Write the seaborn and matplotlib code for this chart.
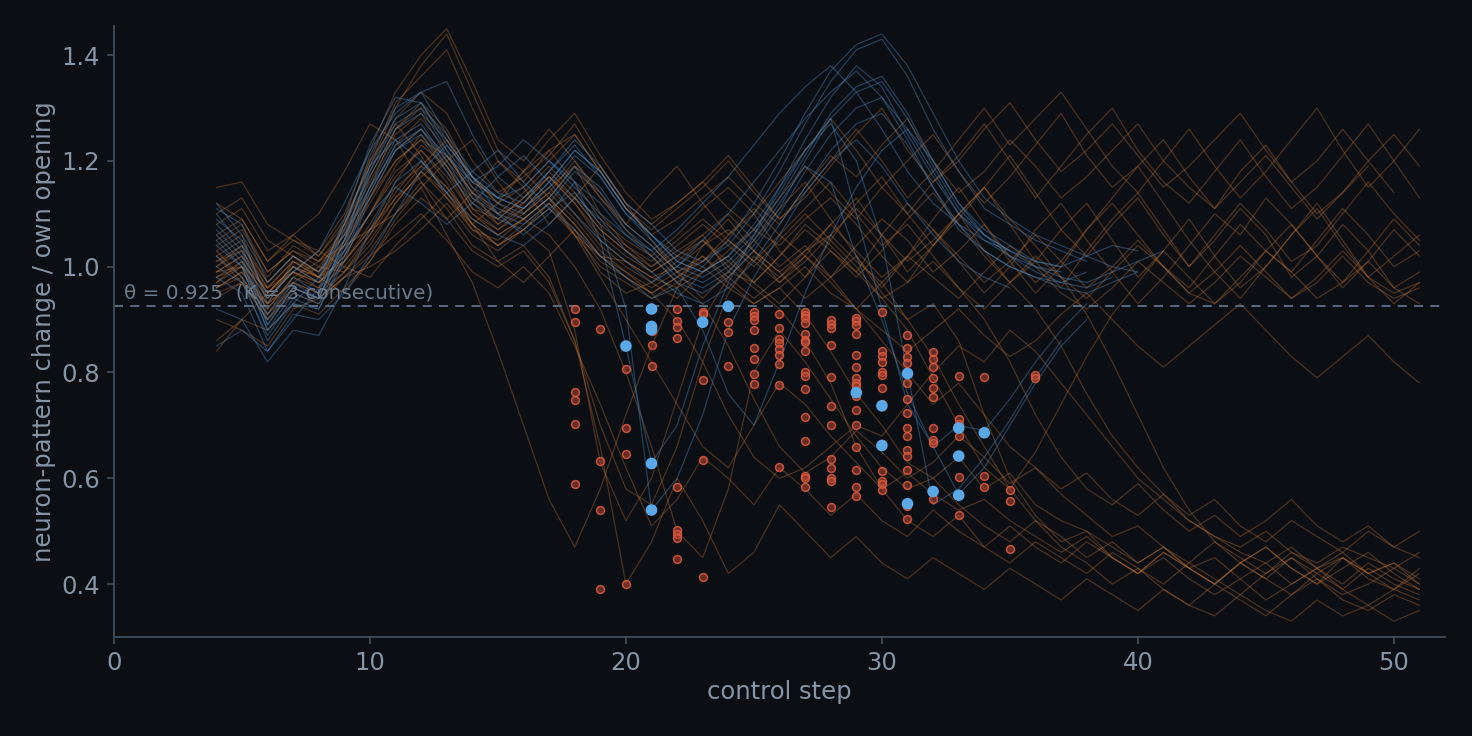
import numpy as np
import pandas as pd
import matplotlib
matplotlib.use("Agg")
import matplotlib.pyplot as plt
import seaborn as sns

# trajectories, one list per run, values start at step 4
orange_runs = [
    [0.97,1.01,0.94,0.99,0.96,1.08,1.20,1.27, 1.21,1.13,1.08,1.12,1.18,1.13,1.06,1.02,
     1.01,0.98,0.96,0.99,1.03,1.07,1.04,1.09, 1.13,1.08,1.02,0.97,1.04,1.10,1.15,1.08,
     1.01,0.96,1.03,1.09,1.14,1.07,1.00,1.05, 1.11,1.06,0.98,1.02,1.08,1.03,0.96,0.99],
    [1.03,0.98,0.91,0.97,1.00,0.99,1.06,1.15, 1.19,1.24,1.17,1.12,1.09,1.13,1.19,1.10,
     1.04,1.00,1.03,1.06,0.99,0.97,1.02,1.08, 1.04,0.99,1.06,1.12,1.07,1.01,0.95,1.00,
     1.07,1.12,1.05,0.99,0.93,0.98,1.04,1.10, 1.06,1.13,1.08,1.02,0.97,1.03,1.09,1.04],
    [1.10,1.13,1.05,1.02,0.99,1.08,1.20,1.31, 1.36,1.41,1.30,1.20,1.16,1.22,1.25,1.18,
     1.11,1.06,1.09,1.13,1.17,1.12,1.08,1.15, 1.21,1.17,1.23,1.28,1.20,1.14,1.18,1.24,
     1.19,1.13,1.17,1.22,1.27,1.20,1.15,1.11, 1.18,1.23,1.16,1.10,1.14,1.20,1.25,1.19],
    [0.86,0.90,0.95,0.99,1.03,1.00,0.98,1.04, 1.09,1.14,1.08,1.01,0.97,1.02,1.07,0.99,
     0.95,0.97,0.94,0.99,1.02,0.97,0.93,0.98, 1.03,0.99,0.94,0.97,1.01,0.96,0.92,0.97,
     1.02,0.98,0.94,0.99,1.04,1.00,0.95,0.93, 0.98,1.03,0.99,0.94,0.97,1.01,0.96,0.93],
    [1.00,1.04,0.97,1.02,0.98,1.05,1.15,1.26, 1.30,1.25,1.16,1.13,1.18,1.22,1.16,1.09,
     1.05,1.02,1.06,1.11,1.15,1.10,1.03,0.98, 1.05,1.12,1.17,1.10,1.04,1.09,1.15,1.21,
     1.14,1.07,1.02,1.08,1.13,1.06,1.00,1.06, 1.12,1.07,1.01,1.04,1.10,1.16,1.10,1.05],
    [0.96,0.99,0.92,0.98,1.01,1.04,1.07,1.10, 1.15,1.20,1.24,1.16,1.10,1.14,1.20,1.14,
     1.08,1.04,0.99,1.01,1.06,1.11,1.06,1.02, 0.98,1.04,1.09,1.05,0.99,1.03,1.08,1.02,
     0.97,1.01,1.07,1.12,1.06,1.00,0.96,1.02, 1.08,1.03,0.99,1.05,1.11,1.06,1.00,1.03],
    [1.05,1.08,0.99,1.03,1.00,1.06,1.18,1.28, 1.33,1.29,1.20,1.14,1.17,1.21,1.27,1.19,
     1.12,1.08,1.12,1.16,1.11,1.07,1.13,1.19, 1.14,1.09,1.15,1.20,1.25,1.18,1.12,1.17,
     1.23,1.29,1.21,1.15,1.19,1.24,1.17,1.11, 1.16,1.21,1.15,1.09,1.14,1.19],
    [0.95,0.97,0.90,0.96,0.94,0.98,1.00,1.03, 1.07,1.12,1.06,1.03,1.07,1.11,1.06,1.00,
     0.97,0.94,0.97,1.00,0.96,0.93,0.96,1.00, 0.95,0.92,0.97,1.02,0.98,0.94,0.99,1.04,
     1.00,0.95,0.92,0.96,1.01,0.97,0.93,0.97, 1.02,0.98,0.94,0.97,1.02,0.97,0.94,0.96],
    [0.98,1.01,0.94,0.99,0.97,1.02,1.10,1.18, 1.22,1.16,1.08,1.04,1.07,1.03,0.88,0.63,
     0.52,0.60,0.75,0.90,0.98,1.03,0.99,0.94, 0.98,1.02,0.95,0.90,0.93,0.86,0.72,0.60,
     0.53,0.48,0.50,0.45,0.42,0.46,0.43,0.40, 0.44,0.41,0.38,0.42,0.45,0.41,0.39,0.43],
    [1.01,1.04,0.96,1.01,0.99,1.04,1.13,1.22, 1.26,1.20,1.12,1.08,1.12,1.17,1.12,1.06,
     1.02,0.99,1.02,1.05,1.00,0.96,0.92,0.86, 0.78,0.66,0.58,0.52,0.49,0.53,0.47,0.44,
     0.48,0.45,0.42,0.46,0.43,0.40,0.44,0.41, 0.38,0.42,0.45,0.41,0.38,0.40,0.43,0.40],
    [0.99,1.02,0.95,1.00,0.98,1.01,1.08,1.16, 1.23,1.19,1.11,1.09,1.13,1.17,1.12,1.05,
     1.01,0.98,1.00,1.04,1.07,1.03,0.99,1.03, 1.06,1.01,0.97,0.90,0.83,0.74,0.66,0.58,
     0.52,0.47,0.44,0.40,0.43,0.39,0.36,0.40, 0.37,0.34,0.38,0.41,0.37,0.35,0.38,0.36],
    [0.96,0.99,0.93,0.97,0.95,0.99,1.04,1.12, 1.18,1.14,1.07,1.05,1.09,1.06,1.00,0.92,
     0.80,0.66,0.50,0.45,0.58,0.80,0.88,0.82, 0.75,0.68,0.62,0.58,0.60,0.55,0.51,0.48,
     0.52,0.49,0.45,0.48,0.44,0.47,0.43,0.40, 0.44,0.47,0.43,0.40,0.45,0.42,0.39,0.42],
    [1.04,1.07,0.99,1.03,1.01,1.07,1.16,1.25, 1.29,1.24,1.15,1.10,1.14,1.19,1.14,1.08,
     1.04,1.01,1.05,1.09,1.05,1.01,1.06,1.11, 1.16,1.10,1.04,1.08,1.02,0.96,0.90,0.82,
     0.72,0.64,0.58,0.55,0.59,0.54,0.50,0.53, 0.49,0.52,0.56,0.51,0.48,0.51,0.47,0.50],
    [0.97,1.00,0.92,0.98,0.96,1.00,1.06,1.13, 1.19,1.15,1.09,1.06,1.09,1.13,1.08,1.02,
     0.99,0.96,0.99,1.02,0.97,0.93,0.96,0.91, 0.84,0.76,0.70,0.63,0.60,0.64,0.58,0.61,
     0.55,0.52,0.50,0.47,0.44,0.47,0.43,0.45, 0.41,0.44,0.40,0.43,0.46,0.42,0.44,0.40],
    [1.02,1.05,0.97,1.02,0.99,1.05,1.13,1.20, 1.24,1.21,1.14,1.10,1.12,1.17,1.13,1.07,
     1.03,0.99,1.02,1.06,1.10,1.05,1.00,1.04, 0.98,0.92,0.86,0.80,0.74,0.78,0.72,0.66,
     0.62,0.58,0.61,0.56,0.53,0.57,0.52,0.49, 0.47,0.50,0.46,0.44,0.47,0.45,0.43,0.46],
    [0.99,1.02,0.95,1.00,0.97,1.02,1.10,1.19, 1.25,1.19,1.11,1.07,1.10,1.14,1.09,1.03,
     0.99,0.95,0.90,0.82,0.72,0.64,0.60,0.62, 0.66,0.70,0.68,0.74,0.80,0.85,0.82,0.88,
     0.84,0.78,0.72,0.66,0.60,0.56,0.52,0.49, 0.46,0.44,0.47,0.43,0.45,0.42,0.44,0.41],
    [0.94,0.97,0.90,0.95,0.93,0.98,1.03,1.10, 1.16,1.11,1.04,1.01,1.04,0.98,0.86,0.70,
     0.58,0.55,0.66,0.82,0.95,1.02,0.98,1.03, 1.08,1.03,0.98,1.02,1.07,1.02,0.97,1.01,
     1.06,1.01,0.96,1.00,1.05,1.00,0.95,0.99, 1.04,0.99,0.94,0.98,1.03,0.98,0.95,0.97],
    [1.00,1.03,0.96,1.01,0.98,1.04,1.12,1.20, 1.24,1.18,1.10,1.07,1.11,1.15,1.10,1.04,
     1.00,0.97,1.01,1.05,1.01,0.97,1.02,1.07, 1.03,0.98,1.03,1.09,1.14,1.08,1.02,0.97,
     0.92,0.85,0.76,0.68,0.62,0.57,0.53,0.56, 0.51,0.48,0.52,0.49,0.46,0.50,0.47,0.45],
    [0.98,1.00,0.93,0.97,0.95,1.01,1.07,1.14, 1.20,1.15,1.08,1.04,1.08,1.12,1.06,0.98,
     0.90,0.82,0.74,0.66,0.62,0.70,0.78,0.74, 0.68,0.63,0.58,0.61,0.57,0.54,0.56,0.52,
     0.49,0.46,0.49,0.45,0.42,0.45,0.41,0.38, 0.41,0.37,0.40,0.43,0.39,0.36,0.39,0.37],
    [1.08,1.11,1.03,1.06,1.02,1.09,1.19,1.30, 1.38,1.44,1.33,1.22,1.18,1.24,1.29,1.21,
     1.14,1.09,1.12,1.16,1.21,1.15,1.09,1.13, 1.19,1.25,1.30,1.22,1.16,1.20,1.26,1.31,
     1.24,1.18,1.22,1.27,1.21,1.15,1.19,1.24, 1.29,1.22,1.16,1.20,1.26,1.20,1.14],
    [1.02,0.97,0.93,1.01,0.98,0.95,1.01,1.09, 1.15,1.06,0.97,0.84,0.70,0.56,0.47,0.58,
     0.72,0.85,0.96,1.04,1.09,1.03,0.97,1.02, 1.08,1.13,1.06,0.99,1.04,1.10,1.03,0.97,
     1.01,1.07,1.12,1.05,0.98,1.03,1.09,1.02, 0.96,1.00,1.06,1.11,1.04,0.98,1.02,1.06],
    [1.15,1.16,1.08,1.05,1.03,1.10,1.22,1.33, 1.40,1.45,1.35,1.24,1.20,1.26,1.20,1.13,
     1.08,1.14,1.19,1.12,1.06,1.10,1.16,1.22, 1.28,1.22,1.15,1.10,1.16,1.21,1.27,1.20,
     1.13,1.19,1.25,1.30,1.22,1.16,1.12,1.18, 1.24,1.17,1.11,1.15,1.21,1.27,1.20,1.13],
    [0.90,0.88,0.85,0.92,0.94,0.98,1.02,1.06, 1.10,1.05,0.99,0.96,1.00,0.95,0.85,0.74,
     0.62,0.51,0.56,0.64,0.60,0.55,0.62,0.58, 0.53,0.57,0.52,0.49,0.54,0.50,0.47,0.51,
     0.47,0.44,0.48,0.45,0.42,0.46,0.43,0.40, 0.44,0.41,0.45,0.42,0.39,0.43,0.40,0.38],
    [1.12,1.09,1.01,1.06,1.10,1.18,1.27,1.24, 1.16,1.09,1.14,1.20,1.15,1.08,1.13,1.19,
     1.12,1.05,0.99,0.94,0.99,1.05,1.11,1.16, 1.09,1.02,0.96,1.02,1.09,1.15,1.08,1.01,
     0.95,1.00,1.07,1.13,1.19,1.12,1.05,0.99, 0.94,1.00,1.06,1.12,1.05,0.98,0.93,0.97],
    [0.99,1.00,0.96,0.99,0.97,1.01,1.07,1.13, 1.17,1.21,1.14,1.08,1.11,1.15,1.19,1.13,
     1.07,1.02,0.97,0.93,0.85,0.75,0.66,0.61, 0.64,0.69,0.65,0.60,0.63,0.68,0.64,0.59,
     0.62,0.57,0.53,0.49,0.51,0.47,0.44,0.48, 0.45,0.42,0.46,0.43,0.40,0.44,0.41,0.39],
    [1.03,1.06,0.98,1.04,1.01,1.06,1.14,1.23, 1.28,1.22,1.13,1.09,1.13,1.18,1.13,1.07,
     1.03,1.00,1.04,1.08,1.04,1.00,1.05,1.10, 1.05,1.00,0.94,0.88,0.79,0.70,0.62,0.58,
     0.65,0.74,0.83,0.91,0.97,1.03,0.98,0.93, 0.97,1.03,1.08,1.02,0.96,1.01,1.07,1.02],
    [0.96,0.98,0.91,0.96,0.94,0.99,1.05,1.12, 1.18,1.13,1.07,1.04,1.07,1.12,1.07,1.01,
     0.98,0.95,0.98,1.01,1.05,1.01,0.97,1.01, 1.06,1.11,1.06,1.01,1.05,1.10,1.15,1.09,
     1.04,0.98,0.91,0.82,0.72,0.62,0.54,0.48, 0.44,0.47,0.43,0.40,0.43,0.46,0.42,0.39],
    [1.06,1.09,1.01,1.05,1.02,1.08,1.17,1.26, 1.31,1.26,1.17,1.12,1.15,1.20,1.25,1.18,
     1.11,1.07,1.11,1.15,1.20,1.14,1.09,1.14, 1.20,1.26,1.20,1.13,1.18,1.24,1.30,1.23,
     1.28,1.33,1.26,1.19,1.14,1.20,1.26,1.19, 1.13,1.18,1.24,1.30,1.22,1.15,1.20,1.26],
    [0.84,0.90,0.88,0.93,0.91,0.96,1.01,1.08, 1.13,1.09,1.03,1.00,1.03,0.97,0.86,0.66,
     0.40,0.48,0.60,0.52,0.42,0.46,0.55,0.50, 0.45,0.49,0.44,0.41,0.45,0.42,0.39,0.43,
     0.40,0.37,0.41,0.38,0.35,0.39,0.36,0.34, 0.38,0.35,0.33,0.37,0.34,0.36,0.33,0.35],
    [1.01,1.03,0.95,1.00,0.98,1.03,1.10,1.17, 1.22,1.17,1.10,1.06,1.09,1.13,1.08,1.02,
     0.98,0.95,0.98,1.02,0.98,0.94,0.98,1.02, 0.97,0.92,0.88,0.84,0.88,0.92,0.87,0.83,
     0.86,0.91,0.95,0.90,0.85,0.81,0.85,0.89, 0.93,0.88,0.83,0.79,0.83,0.87,0.82,0.78],
]

blue_runs = [
    [1.06,1.01,0.89,0.96,0.94,1.04,1.17,1.26, 1.29,1.21,1.15,1.12,1.10,1.15,1.21,1.17,
     1.10,1.05,1.00,0.98,1.01,1.06,1.13,1.21, 1.29,1.34,1.36,1.29,1.20,1.12,1.07,1.04, 1.01,1.00],
    [1.10,1.04,0.91,0.98,0.95,1.07,1.21,1.30, 1.33,1.25,1.18,1.14,1.12,1.18,1.24,1.19,
     1.12,1.08,1.03,1.01,1.04,1.10,1.18,1.27, 1.35,1.41,1.43,1.36,1.26,1.18,1.11,1.08, 1.05,1.03,1.01],
    [1.02,0.98,0.86,0.93,0.92,1.01,1.13,1.22, 1.25,1.18,1.12,1.09,1.07,1.11,1.14,1.08,
     0.92,0.54,0.60,0.72,0.88,0.98,1.06,1.14, 1.20,1.24,1.19,1.12,1.06,1.01,0.98,0.96],
    [1.08,1.03,0.90,0.97,0.94,1.05,1.18,1.27, 1.30,1.22,1.16,1.13,1.11,1.16,1.22,1.18,
     1.11,1.06,1.01,0.99,1.02,1.07,1.14,1.22, 1.28,1.10,0.92,0.74,0.66,0.57,0.62,0.70, 0.78,0.85,0.90],
    [0.98,0.95,0.84,0.91,0.90,0.95,1.02,1.10, 1.18,1.23,1.17,1.10,1.06,1.10,1.16,1.12,
     1.06,1.02,0.97,0.95,0.98,1.03,1.10,1.18, 1.25,1.30,1.32,1.26,1.18,1.10,1.05,1.02, 0.99,0.97,0.96,0.98],
    [1.12,1.06,0.93,1.00,0.97,1.09,1.23,1.32, 1.31,1.24,1.17,1.13,1.15,1.20,1.16,1.05,
     0.85,0.63,0.70,0.85,0.97,1.06,1.15,1.24, 1.32,1.38,1.34,1.25,1.17,1.10,1.06,1.03],
    [1.04,1.00,0.88,0.95,0.93,1.03,1.15,1.24, 1.27,1.20,1.14,1.11,1.09,1.13,1.19,1.15,
     1.08,1.04,0.99,0.97,1.00,1.05,1.12,1.19, 1.16,1.02,0.90,0.76,0.66,0.70,0.69,0.75, 0.82,0.88,0.93],
    [0.92,0.90,0.82,0.88,0.87,0.96,1.07,1.16, 1.20,1.14,1.09,1.06,1.04,1.08,1.13,1.09,
     1.03,0.99,0.95,0.93,0.96,1.01,1.08,1.15, 1.22,1.27,1.29,1.23,1.15,1.08,1.03,1.00, 0.98,0.96,0.95,0.97,0.99],
    [1.07,1.02,0.89,0.96,0.94,1.05,1.19,1.28, 1.31,1.23,1.17,1.13,1.11,1.16,1.22,1.18,
     1.11,1.06,1.01,0.99,1.02,1.08,1.15,1.22, 1.27,1.20,1.05,0.80,0.55,0.58,0.64,0.71, 0.79,0.86],
    [1.00,0.97,0.87,0.94,0.92,1.02,1.14,1.23, 1.26,1.19,1.13,1.10,1.08,1.12,1.18,1.14,
     1.07,1.03,0.98,0.96,0.99,1.04,1.11,1.20, 1.28,1.33,1.35,1.28,1.19,1.11,1.06,1.03, 1.00,0.98,0.97,0.99,1.01,1.03],
    [0.85,0.88,0.84,0.90,0.96,1.03,1.10,1.15, 1.12,1.08,1.12,1.17,1.21,1.16,1.10,1.05,
     1.01,0.97,1.00,1.05,1.10,1.16,1.22,1.28, 1.33,1.37,1.32,1.24,1.15,1.07,1.03,1.00, 0.98,0.97,0.99],
    [1.09,1.05,0.94,0.99,1.03,1.12,1.22,1.29, 1.33,1.35,1.25,1.17,1.13,1.18,1.23,1.17,
     1.10,1.06,1.02,1.00,1.05,1.12,1.20,1.29, 1.37,1.42,1.44,1.38,1.29,1.20,1.13,1.09, 1.06,1.04,1.02,1.00,0.99],
    [1.05,1.00,0.88,0.93,0.98,1.08,1.19,1.24, 1.20,1.14,1.18,1.22,1.16,1.11,1.07,1.02,
     0.98,0.94,0.96,0.88,0.76,0.70,0.82,0.95, 1.06,1.15,1.22,1.26,1.20,1.12,1.06,1.02, 1.00,0.99],
    [1.11,1.08,0.97,1.02,0.99,1.06,1.15,1.22, 1.26,1.21,1.16,1.19,1.24,1.20,1.15,1.10,
     1.06,1.03,1.07,1.12,1.17,1.23,1.29,1.34, 1.38,1.33,1.26,1.18,1.12,1.08,1.05,1.03, 1.01,1.00,1.02,1.04,1.03],
]
first_step = 4

# detection points (K consecutive steps under theta)
red_x = [18,18,18,18,18,18, 19,19,19,19, 20,20,20,20, 21,21,21,21,
         22,22,22,22,22,22,22,22,22, 23,23,23,23,23, 24,24,24,
         25,25,25,25,25,25,25,25, 26,26,26,26,26,26,26,26,26,
         27,27,27,27,27,27,27,27,27,27,27,27,27,27,27,27,
         28,28,28,28,28,28,28,28,28,28,28,28,
         29,29,29,29,29,29,29,29,29,29,29,29,29,29,29,29,
         30,30,30,30,30,30,30,30,30,30,30,30,30,
         31,31,31,31,31,31,31,31,31,31,31,31,31,31,31,31,
         32,32,32,32,32,32,32,32,32,32, 33,33,33,33,33,33,33,
         34,34,34, 35,35,35, 36,36]
red_y = [0.92,0.895,0.763,0.748,0.703,0.59, 0.882,0.633,0.54,0.39, 0.807,0.696,0.645,0.40,
         0.92,0.878,0.852,0.812,
         0.92,0.897,0.886,0.865,0.583,0.502,0.494,0.487,0.447, 0.915,0.91,0.786,0.635,0.413,
         0.895,0.877,0.812,
         0.915,0.907,0.90,0.88,0.846,0.825,0.797,0.779,
         0.91,0.884,0.863,0.855,0.845,0.833,0.817,0.777,0.622,
         0.915,0.909,0.903,0.893,0.873,0.862,0.857,0.84,0.80,0.793,0.768,0.716,0.671,0.605,0.60,0.584,
         0.90,0.892,0.884,0.852,0.792,0.737,0.701,0.637,0.62,0.60,0.595,0.545,
         0.903,0.897,0.89,0.872,0.833,0.81,0.79,0.781,0.775,0.755,0.73,0.70,0.66,0.615,0.584,0.566,
         0.915,0.84,0.831,0.82,0.80,0.795,0.77,0.74,0.665,0.613,0.594,0.59,0.578,
         0.87,0.847,0.83,0.818,0.80,0.78,0.75,0.724,0.696,0.68,0.653,0.643,0.616,0.588,0.547,0.524,
         0.838,0.826,0.81,0.79,0.77,0.754,0.695,0.673,0.667,0.56,
         0.793,0.713,0.703,0.68,0.603,0.568,0.53,
         0.792,0.605,0.584, 0.577,0.558,0.466, 0.795,0.79]
blue_x = [20,21,21,21,21,21,23,24,29,30,30,31,31,32,33,33,33,34]
blue_y = [0.85,0.92,0.887,0.881,0.628,0.54,0.895,0.925,0.762,0.737,0.662,0.798,0.552,
          0.575,0.695,0.642,0.568,0.686]

theta = 0.925
k_consec = 3

bg = "#0b0e13"
fg = "#8595a5"
spine_c = "#3f4d5b"

rows = []
for grp, runs in (("other", orange_runs), ("ref", blue_runs)):
    for i, run in enumerate(runs):
        for j, v in enumerate(run):
            rows.append((grp + str(i), grp, first_step + j, v))
df = pd.DataFrame(rows, columns=["run", "group", "step", "value"])

sns.set_style("dark")
plt.rcParams["font.family"] = ["DejaVu Sans"]

fig = plt.figure(figsize=(14.72, 7.36), dpi=100, facecolor=bg)
ax = fig.add_axes([0.0774, 0.1345, 0.9043, 0.8302])
ax.set_facecolor(bg)

sns.lineplot(data=df[df.group == "other"], x="step", y="value", units="run", estimator=None,
             color="#d07e3c", alpha=0.32, linewidth=0.9, ax=ax)
sns.lineplot(data=df[df.group == "ref"], x="step", y="value", units="run", estimator=None,
             color="#5596d0", alpha=0.36, linewidth=0.9, ax=ax)

ax.axhline(theta, color="#5b7288", linestyle=(0, (5, 4)), linewidth=1.3)
ax.text(0.4, theta + 0.008, f"θ = {theta}  (K = {k_consec} consecutive)",
        color="#6a7b8c", fontsize=14.4, va="bottom", ha="left")

sns.scatterplot(x=red_x, y=red_y, color=(0.72, 0.27, 0.20, 0.55),
                edgecolor=(0.88, 0.36, 0.25, 0.85), linewidth=1.1, s=32, ax=ax, zorder=4)
sns.scatterplot(x=blue_x, y=blue_y, color="#5aa9e6", edgecolor="none", s=70, ax=ax, zorder=5)

ax.set_xlim(0, 52)
ax.set_ylim(0.3, 1.455)
ax.set_xticks([0, 10, 20, 30, 40, 50])
ax.set_yticks([0.4, 0.6, 0.8, 1.0, 1.2, 1.4])
ax.set_xlabel("control step", color=fg, fontsize=17.5)
ax.set_ylabel("neuron-pattern change / own opening", color=fg, fontsize=17.5)
ax.tick_params(colors=spine_c, labelcolor=fg, labelsize=17.5, length=5, width=1.2,
               left=True, bottom=True, pad=5)
ax.grid(False)
for side in ("top", "right"):
    ax.spines[side].set_visible(False)
for side in ("left", "bottom"):
    ax.spines[side].set_visible(True)
    ax.spines[side].set_color(spine_c)
    ax.spines[side].set_linewidth(1.3)

fig.savefig("out.png", dpi=100, facecolor=bg)
